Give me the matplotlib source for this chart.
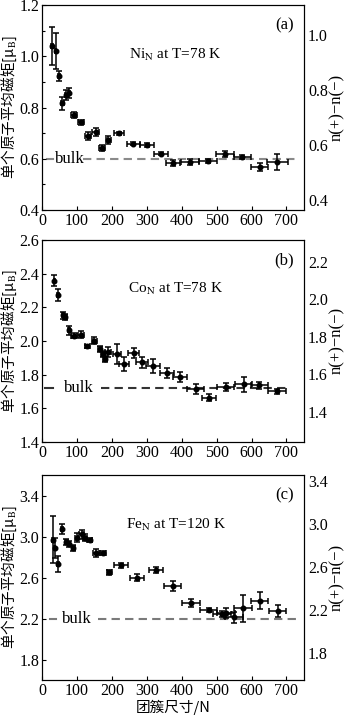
import matplotlib
matplotlib.use("Agg")
import matplotlib.pyplot as plt
from matplotlib.ticker import MultipleLocator, FormatStrFormatter

plt.rcParams['font.family'] = ['Liberation Serif', 'Noto Sans CJK SC', 'DejaVu Sans']
plt.rcParams['mathtext.fontset'] = 'stix'

# ---- data ----
# (a) Ni_N at T=78 K
a_x = [28, 39, 49, 58, 69, 77, 92, 111, 132, 153, 171, 190, 221, 261, 301, 341, 376, 423, 475, 524, 574, 623, 673]
a_y = [1.041, 1.021, 0.924, 0.817, 0.850, 0.858, 0.771, 0.742, 0.689, 0.705, 0.643, 0.672, 0.700,
       0.659, 0.653, 0.620, 0.582, 0.588, 0.593, 0.617, 0.608, 0.568, 0.588]
a_yerr = [0.075, 0.07, 0.02, 0.025, 0.02, 0.02, 0.012, 0.01, 0.015, 0.015, 0.012, 0.015, 0.006,
          0.006, 0.008, 0.006, 0.012, 0.012, 0.008, 0.012, 0.008, 0.015, 0.03]
a_xerr = [2, 2, 3, 4, 4, 4, 8, 8, 8, 10, 8, 8, 15, 18, 20, 20, 20, 25, 25, 25, 25, 25, 30]
a_bulk = 0.6

# (b) Co_N at T=78 K
b_x = [35, 46, 59, 67, 76, 91, 112, 130, 150, 167, 174, 181, 188, 214, 235, 262, 286, 319, 357,
       396, 440, 478, 526, 577, 622, 673]
b_y = [2.358, 2.272, 2.152, 2.142, 2.062, 2.032, 2.038, 1.968, 2.002, 1.952, 1.922, 1.892, 1.932,
       1.922, 1.862, 1.926, 1.872, 1.852, 1.812, 1.787, 1.712, 1.664, 1.728, 1.742, 1.737, 1.700]
b_yerr = [0.035, 0.035, 0.02, 0.015, 0.025, 0.015, 0.02, 0.01, 0.02, 0.02, 0.02, 0.02, 0.03,
          0.06, 0.04, 0.03, 0.035, 0.04, 0.03, 0.03, 0.03, 0.02, 0.025, 0.045, 0.02, 0.015]
b_xerr = [2, 3, 3, 3, 3, 8, 8, 6, 8, 6, 6, 6, 8, 12, 15, 15, 18, 20, 20, 20, 25, 20, 25, 25, 25, 25]
b_bulk = 1.72

# (c) Fe_N at T=120 K
c_x = [30, 36, 46, 57, 69, 77, 89, 99, 113, 124, 136, 155, 174, 193, 227, 273, 325, 374, 426,
       477, 515, 527, 550, 575, 623, 675]
c_y = [2.97, 2.89, 2.73, 3.07, 2.95, 2.93, 2.89, 2.99, 3.02, 2.99, 2.97, 2.84, 2.84, 2.65, 2.72,
       2.60, 2.67, 2.52, 2.355, 2.283, 2.244, 2.257, 2.21, 2.30, 2.375, 2.273]
c_yerr = [0.23, 0.1, 0.08, 0.05, 0.03, 0.03, 0.03, 0.04, 0.04, 0.03, 0.02, 0.04, 0.02, 0.025,
          0.025, 0.03, 0.03, 0.05, 0.04, 0.02, 0.025, 0.05, 0.05, 0.13, 0.08, 0.06]
c_xerr = [2, 2, 3, 3, 4, 4, 4, 5, 6, 6, 8, 10, 10, 8, 20, 20, 20, 25, 25, 25, 25, 25, 25, 25, 25, 25]
c_bulk = 2.2

x_ticks = [0, 100, 200, 300, 400, 500, 600, 700]

panels = [
    dict(x=a_x, y=a_y, xerr=a_xerr, yerr=a_yerr, bulk=a_bulk, label='(a)',
         name=r'Ni$_\mathrm{N}$ at T=78 K', ylim=(0.4, 1.2), yticks=[0.4, 0.6, 0.8, 1.0, 1.2],
         minor=0.1, rlim=(0.364, 1.109), rticks=[0.4, 0.6, 0.8, 1.0],
         pos=[0.122, 0.7075, 0.759, 0.2855], dash=(13, 32), txt=36, line=(118, 737),
         dcol='#8a8a8a'),
    dict(x=b_x, y=b_y, xerr=b_xerr, yerr=b_yerr, bulk=b_bulk, label='(b)',
         name=r'Co$_\mathrm{N}$ at T=78 K', ylim=(1.4, 2.6),
         yticks=[1.4, 1.6, 1.8, 2.0, 2.2, 2.4, 2.6], minor=None, rlim=(1.238, 2.316),
         rticks=[1.4, 1.6, 1.8, 2.0, 2.2], pos=[0.122, 0.3844, 0.759, 0.2816],
         dash=(9, 32), txt=64, line=(170, 708), dcol='#333333'),
    dict(x=c_x, y=c_y, xerr=c_xerr, yerr=c_yerr, bulk=c_bulk, label='(c)',
         name=r'Fe$_\mathrm{N}$ at T=120 K', ylim=(1.6, 3.6), yticks=[1.8, 2.2, 2.6, 3.0, 3.4],
         minor=None, rlim=(1.546, 3.453), rticks=[1.8, 2.2, 2.6, 3.0, 3.4],
         pos=[0.122, 0.0529, 0.759, 0.2855], dash=(22, 40), txt=58, line=(160, 740),
         dcol='#7a7a7a'),
]

fig = plt.figure(figsize=(3.45, 7.18), dpi=100)

for p in panels:
    ax = fig.add_axes(p['pos'])
    ymin, ymax = p['ylim']
    # bulk reference line with label
    ax.plot(p['dash'], [p['bulk']] * 2, color=p['dcol'], lw=1.5, zorder=1)
    ax.plot(p['line'], [p['bulk']] * 2, color=p['dcol'], lw=1.5,
            linestyle=(0, (4, 2.5)), zorder=1)
    ax.text(p['txt'], p['bulk'], 'bulk', fontsize=12, va='center', ha='left')
    # data
    ax.errorbar(p['x'], p['y'], xerr=p['xerr'], yerr=p['yerr'], fmt='o', ms=3.3,
                color='black', ecolor='black', elinewidth=1.1, capsize=2.0,
                capthick=1.1, zorder=3)
    ax.set_xlim(0, 750)
    ax.set_ylim(ymin, ymax)
    ax.set_xticks(x_ticks)
    ax.set_yticks(p['yticks'])
    if p['minor']:
        ax.yaxis.set_minor_locator(MultipleLocator(p['minor']))
    ax.tick_params(direction='in', length=3, width=0.8, labelsize=11.5, pad=2)
    ax.tick_params(which='minor', direction='in', length=2, width=0.8)
    ax.yaxis.set_major_formatter(FormatStrFormatter('%.1f'))
    ax.set_ylabel('单个原子平均磁矩[μ$_\\mathrm{B}$]', fontsize=10.5,
                  family=['Noto Sans CJK SC', 'DejaVu Sans'], labelpad=0)
    ax.text(0.51, 0.755, p['name'], transform=ax.transAxes, fontsize=11,
            ha='center', va='center')
    ax.text(0.96, 0.9, p['label'], transform=ax.transAxes, fontsize=12,
            ha='right', va='center')
    for s in ax.spines.values():
        s.set_linewidth(0.8)

    # right axis: n(+)-n(-)
    ax2 = ax.twinx()
    ax2.set_ylim(*p['rlim'])
    ax2.set_yticks(p['rticks'])
    ax2.yaxis.set_major_formatter(FormatStrFormatter('%.1f'))
    ax2.tick_params(length=0, labelsize=11.5, pad=3)
    ax2.set_ylabel('n(+)\u2212n(\u2212)', fontsize=12, labelpad=1)

ax.set_xlabel('团簇尺寸/N', fontsize=10.5, family=['Noto Sans CJK SC', 'DejaVu Sans'],
              labelpad=0.5)

fig.savefig('out.png', dpi=100)
